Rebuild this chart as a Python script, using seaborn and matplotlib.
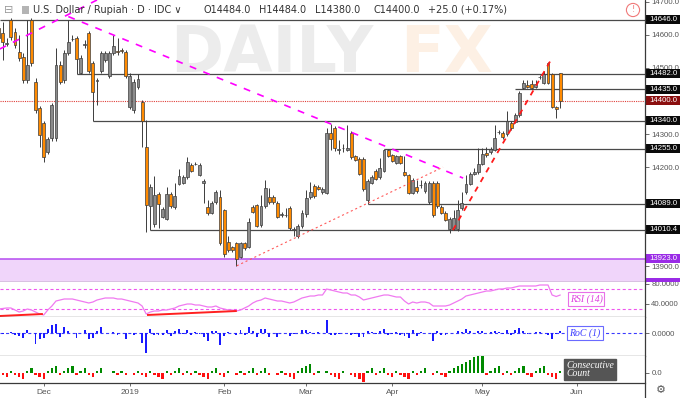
import numpy as np
import pandas as pd
import matplotlib
matplotlib.use('Agg')
import matplotlib.pyplot as plt
from matplotlib.patches import Rectangle
from matplotlib.lines import Line2D
import seaborn as sns

# ---- daily OHLC, USD/IDR (IDC) ----
opens = [14620, 14605, 14572, 14645, 14608, 14548, 14533, 14463, 14645, 14457,
         14379, 14334, 14246, 14288, 14288, 14509, 14463, 14545, 14588, 14590,
         14485, 14570, 14605, 14515, 14460, 14491, 14524, 14476, 14545, 14550,
         14553, 14548, 14382, 14373, 14442, 14397, 14261, 14083, 14028, 14119,
         14050, 14044, 14119, 14080, 14149, 14152, 14170, 14207, 14209, 14176,
         14152, 14080, 14062, 14095, 14110, 14071, 13974, 13959, 13971, 13929,
         13971, 13959, 14080, 14086, 14025, 14083, 14110, 14110, 14092, 14055,
         14055, 14077, 14010, 13992, 14022, 14059, 14110, 14143, 14140, 14125,
         14122, 14303, 14318, 14252, 14258, 14252, 14303, 14234, 14225, 14225,
         14101, 14152, 14189, 14170, 14189, 14252, 14237, 14213, 14234, 14186,
         14176, 14122, 14140, 14146, 14128, 14095, 14152, 14152, 14080, 14062,
         14013, 14013, 14013, 14077, 14125, 14149, 14179, 14185, 14210, 14244,
         14246, 14252, 14306, 14303, 14300, 14334, 14337, 14358, 14439, 14448,
         14451, 14442, 14472, 14454, 14515, 14482, 14382, 14484]
highs = [14650, 14640, 14590, 14650, 14620, 14600, 14545, 14646, 14650, 14470,
         14385, 14340, 14290, 14395, 14560, 14520, 14555, 14645, 14600, 14595,
         14540, 14585, 14610, 14520, 14470, 14550, 14552, 14552, 14600, 14590,
         14560, 14555, 14485, 14465, 14480, 14402, 14343, 14150, 14173, 14125,
         14080, 14140, 14125, 14152, 14195, 14175, 14231, 14212, 14215, 14212,
         14165, 14100, 14098, 14131, 14131, 14075, 13992, 13963, 13975, 13975,
         13975, 14046, 14085, 14090, 14116, 14161, 14137, 14115, 14098, 14063,
         14077, 14082, 14018, 14028, 14070, 14131, 14155, 14150, 14145, 14140,
         14318, 14330, 14325, 14282, 14270, 14328, 14310, 14238, 14230, 14230,
         14165, 14175, 14195, 14228, 14256, 14256, 14240, 14238, 14238, 14234,
         14180, 14168, 14161, 14161, 14158, 14158, 14158, 14158, 14085, 14068,
         14050, 14071, 14101, 14125, 14176, 14185, 14198, 14258, 14258, 14262,
         14262, 14328, 14312, 14310, 14370, 14340, 14364, 14430, 14463, 14463,
         14463, 14463, 14478, 14490, 14519, 14485, 14385, 14484]
lows = [14575, 14525, 14565, 14585, 14560, 14520, 14455, 14455, 14505, 14365,
        14261, 14216, 14240, 14280, 14280, 14450, 14455, 14540, 14580, 14482,
        14480, 14560, 14485, 14340, 14388, 14485, 14518, 14470, 14540, 14540,
        14545, 14470, 14375, 14365, 14435, 14262, 14005, 14010, 14020, 14016,
        14045, 14040, 14078, 14075, 14145, 14148, 14165, 14185, 14205, 14172,
        14092, 14055, 14058, 14090, 13965, 13930, 13945, 13945, 13902, 13925,
        13950, 13955, 14060, 14018, 14020, 14078, 14090, 14090, 14045, 14050,
        14050, 14010, 13992, 13986, 14015, 14050, 14105, 14108, 14130, 14120,
        14118, 14252, 14250, 14240, 14245, 14248, 14225, 14218, 14175, 14128,
        14089, 14148, 14160, 14165, 14185, 14230, 14215, 14210, 14210, 14172,
        14118, 14118, 14122, 14137, 14122, 14090, 14050, 14077, 14058, 14036,
        14001, 14010, 14008, 14072, 14120, 14145, 14175, 14180, 14205, 14232,
        14240, 14248, 14300, 14285, 14295, 14312, 14332, 14352, 14435, 14438,
        14436, 14438, 14465, 14450, 14450, 14378, 14349, 14380]
closes = [14590, 14578, 14576, 14593, 14569, 14530, 14463, 14509, 14515, 14373,
          14297, 14231, 14285, 14388, 14509, 14457, 14545, 14578, 14586, 14527,
          14530, 14572, 14491, 14427, 14462, 14545, 14545, 14545, 14566, 14548,
          14551, 14476, 14476, 14457, 14466, 14340, 14086, 14140, 14116, 14089,
          14074, 14119, 14083, 14113, 14173, 14170, 14216, 14189, 14211, 14207,
          14158, 14062, 14092, 14125, 13971, 13938, 13950, 13950, 13923, 13971,
          13956, 14034, 14065, 14022, 14083, 14137, 14095, 14095, 14050, 14057,
          14056, 14016, 14012, 14022, 14062, 14107, 14125, 14113, 14134, 14134,
          14303, 14285, 14258, 14254, 14258, 14258, 14231, 14222, 14180, 14134,
          14158, 14170, 14164, 14198, 14252, 14234, 14219, 14234, 14213, 14176,
          14122, 14161, 14128, 14146, 14152, 14152, 14056, 14083, 14062, 14041,
          14044, 14046, 14071, 14092, 14149, 14179, 14185, 14210, 14240, 14238,
          14255, 14288, 14306, 14291, 14340, 14318, 14358, 14424, 14454, 14442,
          14440, 14451, 14472, 14482, 14454, 14382, 14375, 14400]
rsi_values = [30, 31, 32, 32, 28, 24, 26, 30, 28, 24,
              20, 18, 28, 36, 46, 48, 50, 50, 50, 48,
              46, 44, 42, 44, 48, 50, 52, 52, 52, 50,
              50, 48, 46, 44, 42, 36, 20, 24, 26, 26,
              28, 28, 30, 32, 36, 38, 40, 40, 38, 38,
              36, 34, 34, 36, 32, 30, 28, 28, 26, 28,
              32, 36, 42, 46, 48, 52, 50, 48, 46, 46,
              44, 42, 44, 48, 52, 54, 56, 56, 58, 58,
              70, 68, 66, 64, 62, 62, 58, 58, 54, 48,
              50, 52, 54, 56, 58, 58, 56, 54, 54, 46,
              40, 44, 42, 44, 44, 42, 36, 36, 36, 36,
              38, 42, 46, 50, 56, 58, 60, 62, 64, 66,
              66, 68, 70, 70, 72, 72, 74, 76, 76, 76,
              76, 76, 78, 78, 78, 58, 55, 58]

# horizontal levels and the bar each one is anchored at
levels = [14646.0, 14482.0, 14435.0, 14340.0, 14255.0, 14089.0, 14010.4]
level_start = [None, 19, 126, 23, 94, 90, 37]
last_price = 14400.0
zone_top = 13923.0
price_ticks = [13900, 14200, 14300, 14500, 14600, 14700]

# drawn trend lines as (bar, value) endpoints
magenta_up = [(0.3, 14557), (24.0, 14705)]
magenta_down = [(17.0, 14655), (113.3, 14167)]
red_thin = [(58.1, 13902), (108.4, 14200)]
red_bold = [(110.8, 14010), (135.0, 14530)]
rsi_div = [[(0.3, 16), (10.8, 20)], [(36.2, 18), (58.1, 26)]]

W, H = 680, 398
sns.set_theme(style='white')
plt.rcParams['font.family'] = ['DejaVu Sans']
plt.rcParams['lines.scale_dashes'] = False

def rect(x0, y0, x1, y1):
    return [x0 / W, 1 - y1 / H, (x1 - x0) / W, (y1 - y0) / H]

def fpx(x, y):
    return x / W, 1 - y / H

fig = plt.figure(figsize=(W / 100, H / 100), dpi=100)
fig.patch.set_facecolor('white')
ax = fig.add_axes(rect(0, 0, 645, 282))
ax_rsi = fig.add_axes(rect(0, 282, 645, 316.5), sharex=ax)
ax_roc = fig.add_axes(rect(0, 316.5, 645, 356), sharex=ax)
ax_cc = fig.add_axes(rect(0, 356, 645, 382.5), sharex=ax)

dates = pd.bdate_range('2018-11-16', periods=len(closes))
x = np.arange(len(dates))
o, h, l, c = (np.array(v, dtype=float) for v in (opens, highs, lows, closes))

ORANGE, GREY, EDGE = '#ff8a00', '#8c8c8c', '#3c3c3c'
AXC = '#3a3a3a'
TXT = '#555555'
LBL_FONT = 'Liberation Sans'
LBL_SIZE = 5.6

# ---- main price panel ----
ax.set_facecolor('white')
ax.text(170 / 645, 1 - 72 / 282, 'DAILY', transform=ax.transAxes, fontsize=46,
        fontweight='bold', color='#ececec', va='baseline', zorder=0)
ax.text(400 / 645, 1 - 72 / 282, 'FX', transform=ax.transAxes, fontsize=46,
        fontweight='bold', color='#fdf0e4', va='baseline', zorder=0)

ax.axhspan(13800, zone_top, color='#f0d5fa', lw=0, zorder=1)
ax.axhline(zone_top, color='#b54cf0', lw=1.1, zorder=2)

xl = (0.34, 157.66)
for lv, st in zip(levels, level_start):
    ax.hlines(lv, xl[0] if st is None else st, xl[1], color='#4a4a4a', lw=0.9, zorder=2)
ax.axhline(last_price, color='#e0403a', lw=0.8, dashes=(0.8, 0.8), zorder=2)

ax.vlines(x, l, h, color=EDGE, lw=0.7, zorder=3)
body = np.maximum(np.abs(c - o), 1.2)
ax.bar(x, body, bottom=np.minimum(o, c), width=0.7,
       color=np.where(c < o, ORANGE, GREY), edgecolor=EDGE, linewidth=0.5, zorder=4)

def seg(a, pts, **kw):
    (x0, y0), (x1, y1) = pts
    a.plot([x0, x1], [y0, y1], solid_capstyle='butt', **kw)

seg(ax, magenta_up, color='#ff00ff', lw=1.2, dashes=(5, 5.5), zorder=5)
seg(ax, magenta_down, color='#ff00ff', lw=1.2, dashes=(5, 5.5), zorder=5)
seg(ax, red_thin, color='#ff5a5a', lw=0.8, dashes=(1.5, 2), zorder=5)
seg(ax, red_bold, color='#ff1a1a', lw=1.3, dashes=(4, 4), zorder=5)

ax.set_xlim(*xl)
ax.set_ylim(13853, 14705)
ax.set_yticks(price_ticks)
ax.set_yticklabels([f'{t:.1f}' for t in price_ticks])

# price tags on the right scale (box drawn over the scale, text inside)
box_color = {14400.0: '#8b0f0f', 13923.0: '#9a2be6'}
tag_h = 9 * (14705 - 13853) / 282
for lv in levels + [last_price, zone_top]:
    ax.add_patch(Rectangle((1.0, lv - tag_h / 2), 36 / 645, tag_h,
                           transform=ax.get_yaxis_transform(), clip_on=False,
                           fc=box_color.get(lv, '#0a0a0a'), ec='none', zorder=9))
    ax.text(1 + 4 / 645, lv, f'{lv:.1f}', transform=ax.get_yaxis_transform(),
            fontsize=LBL_SIZE, family=LBL_FONT, color='white', va='center', ha='left',
            clip_on=False, zorder=10)

# ---- RSI panel ----
ax_rsi.axhline(70, color='#ee55ee', lw=0.8, dashes=(2.2, 1.8))
ax_rsi.axhline(30, color='#ee55ee', lw=0.8, dashes=(2.2, 1.8))
sns.lineplot(x=x, y=rsi_values, ax=ax_rsi, color='#f07af0', lw=0.9, legend=False)
for pts in rsi_div:
    seg(ax_rsi, pts, color='#ff2020', lw=1.4)
ax_rsi.set_ylim(15, 84)
ax_rsi.set_yticks([40, 80])
ax_rsi.set_yticklabels(['40.0000', '80.0000'])

# ---- Rate of change (1) ----
roc = np.zeros_like(c)
roc[1:] = (c[1:] / c[:-1] - 1) * 100
ax_roc.axhline(0, color='#3a3aff', lw=0.8, dashes=(2.2, 1.8), zorder=1)
ax_roc.bar(x, roc, width=0.45, color='#1a1aff', lw=0, zorder=2)
ax_roc.set_ylim(-2.06, 1.53)
ax_roc.set_yticks([0])
ax_roc.set_yticklabels(['0.0000'])

# ---- Consecutive count ----
cc = np.zeros_like(c)
for i in range(1, len(c)):
    if c[i] > c[i - 1]:
        cc[i] = max(cc[i - 1], 0) + 1
    elif c[i] < c[i - 1]:
        cc[i] = min(cc[i - 1], 0) - 1
ax_cc.bar(x, cc, width=0.55, color=np.where(cc >= 0, '#008a00', '#ff1010'), lw=0)
ax_cc.set_ylim(-4.45, 7.6)
ax_cc.set_yticks([0])
ax_cc.set_yticklabels(['0.0'])

all_days = pd.bdate_range(dates[0], '2019-06-28')
month_pos = [i for i in range(1, len(all_days)) if all_days[i].month != all_days[i - 1].month]
month_lab = [str(all_days[i].year) if all_days[i].month == 1 else all_days[i].strftime('%b')
             for i in month_pos]
ax_cc.set_xticks(month_pos)
ax_cc.set_xticklabels(month_lab)

for a in (ax, ax_rsi, ax_roc, ax_cc):
    a.set_xlabel('')
    a.set_ylabel('')
    a.yaxis.tick_right()
    a.tick_params(axis='y', length=3, width=0.6, color=TXT, labelsize=LBL_SIZE,
                  labelcolor=TXT, pad=1.5, right=True, left=False)
    for t in a.get_yticklabels():
        t.set_family(LBL_FONT)
    for s in ('left', 'top', 'right'):
        a.spines[s].set_visible(False)
    a.spines['bottom'].set_color(AXC)
    a.spines['bottom'].set_linewidth(0.9)
    if a is not ax_cc:
        a.tick_params(axis='x', bottom=False, labelbottom=False)
ax_cc.tick_params(axis='x', length=2.5, width=0.6, color=TXT, labelsize=6,
                  labelcolor=TXT, pad=2, bottom=True)
for t in ax_cc.get_xticklabels():
    t.set_family(LBL_FONT)

# right price-scale border and clipped bottom tag
fig.add_artist(Line2D([645 / W, 645 / W], [0, 1], color=AXC, lw=0.9))
fig.add_artist(Rectangle(fpx(645, 282), 35 / W, 4 / H, color='#9a2be6', lw=0))

# indicator captions
fig.text(*fpx(586, 299), 'RSI (14)', fontsize=7, style='italic', family='Liberation Serif',
         color='#e040e0', ha='center', va='center',
         bbox=dict(boxstyle='square,pad=0.2', fc='white', ec='#e870e8', lw=0.8))
fig.text(*fpx(585, 333), 'RoC (1)', fontsize=7, style='italic', family='Liberation Serif',
         color='#3a3aff', ha='center', va='center',
         bbox=dict(boxstyle='square,pad=0.2', fc='white', ec='#6a6aff', lw=0.8))
fig.text(*fpx(566, 369.5), 'Consecutive\nCount', fontsize=7, style='italic',
         family='Liberation Serif', color='white', ha='left', va='center', linespacing=0.95,
         bbox=dict(boxstyle='square,pad=0.2', fc='#555555', ec='#555555'))

# header
fig.text(*fpx(9, 10), '⊟', fontsize=8, color='#9a9a9a', ha='center', va='center')
fig.add_artist(Rectangle(fpx(22, 14), 7 / W, 8 / H, color='#b4b4b4', lw=0))
fig.text(*fpx(33, 10), 'U.S. Dollar / Rupiah · D · IDC ∨', fontsize=7, color='#333333', va='center')
for px_x, s in zip([204, 259, 315, 373, 428],
                   ['O14484.0', 'H14484.0', 'L14380.0', 'C14400.0', '+25.0 (+0.17%)']):
    fig.text(*fpx(px_x, 10), s, fontsize=7, color='#333333', va='center')
fig.text(*fpx(633, 10), '!', fontsize=6, color='#f07a7a', ha='center', va='center',
         bbox=dict(boxstyle='circle,pad=0.25', fc='white', ec='#f07a7a', lw=0.8))
fig.text(*fpx(661, 390), '⚙', fontsize=8, color='#555555', ha='center', va='center')

fig.savefig('out.png', dpi=100)
